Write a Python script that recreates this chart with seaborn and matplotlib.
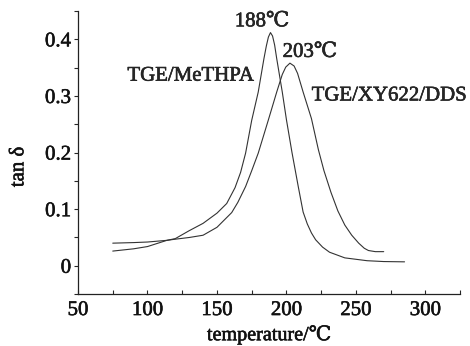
import numpy as np
import pandas as pd
import seaborn as sns
import matplotlib.pyplot as plt
import matplotlib.patheffects as pe
from matplotlib.ticker import MultipleLocator

# values
methpa_temp = [75, 90, 100, 114, 120, 130, 140, 150, 157, 163, 167, 170.6, 175,
               179.7, 183.8, 185.5, 187, 188.5, 190, 191.5, 193, 197, 200,
               204, 208.5, 212, 215, 218, 221, 226, 231, 242, 258, 270, 285]
methpa_tan = [0.026, 0.030, 0.034, 0.045, 0.048, 0.062, 0.075, 0.093, 0.110, 0.138,
              0.165, 0.199, 0.257, 0.307, 0.366, 0.388, 0.404, 0.412, 0.406, 0.390,
              0.366, 0.307, 0.258, 0.200, 0.140, 0.095, 0.074, 0.058, 0.046, 0.033,
              0.024, 0.014, 0.009, 0.0075, 0.007]

xy622_temp = [75, 90, 100, 114, 120, 130, 140, 150, 160.6, 165, 170.6, 175, 179.7,
              186.9, 193, 197, 199.5, 202.5, 205.5, 208, 212, 218, 223, 227, 232,
              237, 242, 247, 252, 256, 259, 264, 270]
xy622_tan = [0.040, 0.041, 0.042, 0.045, 0.047, 0.050, 0.054, 0.068, 0.094, 0.112,
             0.140, 0.168, 0.199, 0.257, 0.307, 0.338, 0.351, 0.358, 0.353, 0.340,
             0.307, 0.260, 0.205, 0.168, 0.130, 0.097, 0.072, 0.054, 0.040, 0.031,
             0.027, 0.025, 0.025]

df = pd.concat([
    pd.DataFrame({'temperature': methpa_temp, 'tan': methpa_tan, 'system': 'TGE/MeTHPA'}),
    pd.DataFrame({'temperature': xy622_temp, 'tan': xy622_tan, 'system': 'TGE/XY622/DDS'}),
])

sns.set_style('ticks')
plt.rcParams['font.family'] = ['Liberation Serif', 'DejaVu Serif', 'DejaVu Sans']

fig = plt.figure(figsize=(4.7, 3.46), dpi=100)
ax = fig.add_axes([0.166, 0.150, 0.813, 0.818])

sns.lineplot(data=df, x='temperature', y='tan', hue='system',
             palette=['#333333', '#333333'], linewidth=0.8, sort=False,
             estimator=None, legend=False, ax=ax)

ax.set_xlim(50, 325)
ax.set_ylim(-0.05, 0.45)
ax.set_xticks([50, 100, 150, 200, 250, 300])
ax.set_yticks([0, 0.1, 0.2, 0.3, 0.4])
ax.set_yticklabels(['0', '0.1', '0.2', '0.3', '0.4'])
ax.xaxis.set_minor_locator(MultipleLocator(25))
ax.yaxis.set_minor_locator(MultipleLocator(0.05))
ax.tick_params(axis='x', which='both', direction='in', length=3, width=0.8,
               labelsize=15, pad=5, labelcolor='#111111')
ax.tick_params(axis='y', which='both', direction='out', length=3, width=0.8,
               labelsize=15, pad=2, labelcolor='#111111')
sns.despine(ax=ax)
for s in ['left', 'bottom']:
    ax.spines[s].set_linewidth(0.9)
    ax.spines[s].set_color('#222222')

ax.set_xlabel('temperature/\u2103', fontsize=14.5, color='#111111')
ax.set_ylabel('tan \u03b4', fontsize=15, color='#111111')
ax.xaxis.set_label_coords(0.5, -0.11)
ax.yaxis.set_label_coords(-0.13, 0.45)

ax.text(182.4, 0.431, '188\u2103', fontsize=15, ha='center', va='center')
ax.text(216.9, 0.377, '203\u2103', fontsize=15, ha='center', va='center')
ax.text(131.3, 0.335, 'TGE/MeTHPA', fontsize=15, ha='center', va='center')
ax.text(274, 0.300, 'TGE/XY622/DDS', fontsize=15, ha='center', va='center')

# slightly heavier text, like the scanned figure
heavy = [pe.withStroke(linewidth=0.4, foreground='#111111')]
for t in ax.texts + ax.get_xticklabels() + ax.get_yticklabels() + \
        [ax.xaxis.label, ax.yaxis.label]:
    t.set_path_effects(heavy)

fig.savefig('out.png', dpi=100)
